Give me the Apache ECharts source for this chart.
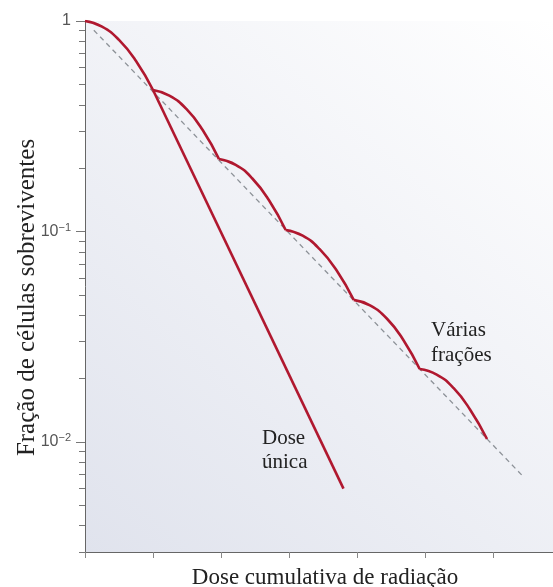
<!DOCTYPE html>
<html><head><meta charset="utf-8">
<script src="https://cdn.jsdelivr.net/npm/echarts@6/dist/echarts.min.js"></script>
<style>html,body{margin:0;padding:0;background:#fff}#c{width:553px;height:587px}</style>
</head><body><div id="c"></div>
<script>
// Multiple fractions: each arc is one fraction; '-' breaks between arcs
const multiDose = [0, 0.25, 0.5, 0.75, 1.0, 1.0,
  1.0, 1.24, 1.49, 1.73, 1.97, 1.97,
  1.97, 2.215, 2.46, 2.705, 2.95, 2.95,
  2.95, 3.2, 3.45, 3.7, 3.95, 3.95,
  3.95, 4.19, 4.44, 4.68, 4.92, 4.92,
  4.92, 5.17, 5.42, 5.66, 5.91];
const multiSurvival = [1, 0.9406, 0.8130, 0.6457, 0.4699, '-',
  0.4699, 0.4418, 0.3821, 0.3032, 0.2208, '-',
  0.2208, 0.2073, 0.1785, 0.1407, 0.1016, '-',
  0.1016, 0.0955, 0.0824, 0.0652, 0.0473, '-',
  0.0473, 0.0445, 0.0385, 0.0305, 0.0222, '-',
  0.0222, 0.0209, 0.0180, 0.01426, 0.01033];
// Single dose (after shared shoulder)
const singleDose = [1.0, 3.8];
const singleSurvival = [0.4699, 0.006];
// Dashed reference line
const refDose = [0.13, 6.44];
const refSurvival = [0.904, 0.00686];
// Axis ticks
const xTickValues = [0, 1, 2, 3, 4, 5, 6];
const yMin = 0.003, yMax = 1;
const yMajorValues = [1, 0.1, 0.01];
const yMajorLabels = ['{b|1}', '{b|10}{s|−1}', '{b|10}{s|−2}'];
const yMinorValues = [0.9, 0.8, 0.7, 0.6, 0.5, 0.4, 0.3, 0.2,
  0.09, 0.08, 0.07, 0.06, 0.05, 0.04, 0.03, 0.02,
  0.009, 0.008, 0.007, 0.006, 0.005, 0.004, 0.003];

const zip = (xs, ys) => xs.map((x, i) => [x, ys[i]]);
const lg = v => Math.log10(v);
const RED = '#b0182f';
const SERIF = '"Liberation Serif", "Times New Roman", serif';
const SANS = '"Liberation Sans", Arial, sans-serif';

// companion tick axes expressed in log10 space (same extent as the log axis)
const tickAxis = (values, len, labels) => ({
  type: 'value', min: lg(yMin), max: lg(yMax), position: 'left',
  axisLine: {show: false, onZero: false},
  axisTick: {show: true, customValues: values.map(lg), length: len, lineStyle: {color: '#777'}},
  axisLabel: labels ? {
    show: true, customValues: values.map(lg), margin: 14,
    formatter: function (v) {
      let best = 0, d = Infinity;
      values.forEach((m, i) => { const e = Math.abs(v - lg(m)); if (e < d) { d = e; best = i; } });
      return labels[best];
    },
    rich: {
      b: {fontFamily: SANS, fontSize: 16, color: '#555'},
      s: {fontFamily: SANS, fontSize: 11, color: '#555', padding: [0, 0, 7, 0]}
    }
  } : {show: false},
  splitLine: {show: false}
});

const chart = echarts.init(document.getElementById('c'), null, {renderer: 'canvas'});
chart.setOption({
  animation: false,
  grid: {
    left: 85, top: 21, right: 0, bottom: 35, containLabel: false, outerBoundsMode: 'none',
    show: true, borderWidth: 0,
    backgroundColor: {type: 'linear', x: 0, y: 1, x2: 1, y2: 0,
      colorStops: [{offset: 0, color: '#e0e3ed'}, {offset: 1, color: '#ffffff'}]}
  },
  xAxis: {
    type: 'value', min: 0, max: 6.88,
    axisLine: {show: true, onZero: false, lineStyle: {color: '#666', width: 1}},
    axisTick: {show: true, customValues: xTickValues, length: 6, lineStyle: {color: '#888'}},
    axisLabel: {show: false},
    splitLine: {show: false},
    name: 'Dose cumulativa de radiação', nameLocation: 'middle', nameGap: 14,
    nameTextStyle: {fontFamily: SERIF, fontSize: 23, color: '#222', padding: [0, 0, 0, 12]}
  },
  yAxis: [{
    type: 'log', logBase: 10, min: yMin, max: yMax, position: 'left',
    axisLine: {show: true, onZero: false, lineStyle: {color: '#666', width: 1}},
    axisTick: {show: false},
    axisLabel: {show: false},
    splitLine: {show: false},
    name: 'Fração de células sobreviventes', nameLocation: 'middle', nameRotate: 90, nameGap: 45,
    nameTextStyle: {fontFamily: SERIF, fontSize: 25, color: '#222', padding: [0, 22, 0, 0]}
  },
  tickAxis(yMajorValues, 9, yMajorLabels),
  tickAxis(yMinorValues, 6, null)
  ],
  series: [{
    type: 'line', name: 'ref', data: zip(refDose, refSurvival), yAxisIndex: 0,
    symbol: 'none', lineStyle: {color: '#8d9298', width: 1.3, type: [5, 4]}, z: 1
  }, {
    type: 'line', name: 'Dose única', data: zip(singleDose, singleSurvival), yAxisIndex: 0,
    symbol: 'none', lineStyle: {color: RED, width: 2.6}, z: 2
  }, {
    type: 'line', name: 'Várias frações', data: zip(multiDose, multiSurvival), yAxisIndex: 0,
    symbol: 'none', smooth: 0.5, connectNulls: false, lineStyle: {color: RED, width: 2.6}, z: 3
  }],
  graphic: [{
    type: 'text', x: 262, y: 426,
    style: {text: 'Dose\núnica', font: '21px ' + SERIF, fill: '#222', lineHeight: 24, align: 'left', verticalAlign: 'top'}
  }, {
    type: 'text', x: 431, y: 318,
    style: {text: 'Várias\nfrações', font: '21px ' + SERIF, fill: '#222', lineHeight: 25, align: 'left', verticalAlign: 'top'}
  }]
});
</script></body></html>
